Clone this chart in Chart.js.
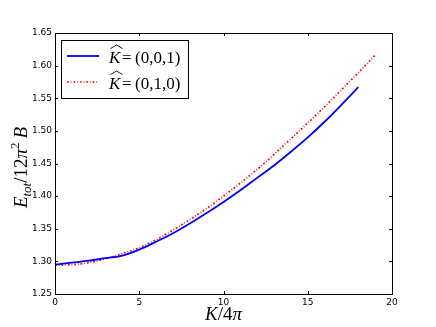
<!DOCTYPE html>
<html>
<head>
<meta charset="utf-8">
<script src="https://cdn.jsdelivr.net/npm/chart.js@4"></script>
<style>
html,body{margin:0;padding:0;background:#fff;}
canvas{display:block;}
</style>
</head>
<body>
<canvas id="c" width="436" height="327"></canvas>
<script>
// ---- data ----
const blueX = [0,1,2,3,4,5,6,7,8,9,10,11,12,13,14,15,16,17,18];
const blueY = [1.295,1.298,1.301,1.305,1.309,1.318,1.330,1.343,1.358,1.374,1.391,1.409,1.428,1.447,1.468,1.490,1.514,1.540,1.567];
const redX  = [0,1,2,3,4,5,6,7,8,9,10,11,12,13,14,15,16,17,18,19];
const redY  = [1.294,1.295,1.298,1.304,1.312,1.321,1.333,1.348,1.364,1.381,1.400,1.420,1.441,1.464,1.488,1.512,1.537,1.563,1.589,1.616];
const xTicks = [0,5,10,15,20];
const yTicks = [1.25,1.30,1.35,1.40,1.45,1.50,1.55,1.60,1.65];
const legendLabels = ['(0,0,1)', '(0,1,0)'];

const BLUE = '#0000ff', RED = '#ff0000';
const RED_DASH = [1.8,1.9,0.8,1.9];

const pts = (xs, ys) => xs.map((x, i) => ({x: x, y: ys[i]}));

const SERIF = '"Liberation Serif", "DejaVu Serif", serif';

function drawPieces(ctx, pieces, cx, cy) {
  let total = 0;
  pieces.forEach(p => {
    ctx.font = (p.italic ? 'italic ' : '') + p.size + 'px ' + SERIF;
    p.w = ctx.measureText(p.t).width + (p.gap || 0);
    total += p.w;
  });
  let x = cx - total / 2;
  ctx.textBaseline = 'alphabetic';
  ctx.textAlign = 'left';
  pieces.forEach(p => {
    ctx.font = (p.italic ? 'italic ' : '') + p.size + 'px ' + SERIF;
    ctx.fillText(p.t, x, cy + (p.dy || 0));
    x += p.w;
  });
}

const decor = {
  id: 'decor',
  afterDraw(chart) {
    const ctx = chart.ctx, a = chart.chartArea;
    const xs = chart.scales.x, ys = chart.scales.y;
    ctx.save();
    // frame
    ctx.strokeStyle = '#000';
    ctx.lineWidth = 1;
    ctx.strokeRect(Math.round(a.left) + 0.5, Math.round(a.top) + 0.5,
                   Math.round(a.right - a.left), Math.round(a.bottom - a.top));
    // inward ticks on all sides
    const L = 3;
    ctx.beginPath();
    xTicks.forEach(v => {
      const px = Math.round(xs.getPixelForValue(v)) + 0.5;
      ctx.moveTo(px, a.bottom); ctx.lineTo(px, a.bottom - L);
      ctx.moveTo(px, a.top); ctx.lineTo(px, a.top + L);
    });
    yTicks.forEach(v => {
      const py = Math.round(ys.getPixelForValue(v)) + 0.5;
      ctx.moveTo(a.left, py); ctx.lineTo(a.left + L, py);
      ctx.moveTo(a.right, py); ctx.lineTo(a.right - L, py);
    });
    ctx.stroke();

    // legend
    const bx = 61.5, by = 40.5, bw = 127, bh = 58;
    ctx.fillStyle = '#fff';
    ctx.fillRect(bx, by, bw, bh);
    ctx.strokeStyle = '#000';
    ctx.strokeRect(bx, by, bw, bh);
    const rows = [
      {y: 56, color: BLUE, dash: [], w: 1.8},
      {y: 82, color: RED, dash: RED_DASH, w: 1.6}
    ];
    rows.forEach((r, i) => {
      ctx.strokeStyle = r.color;
      ctx.lineWidth = r.w;
      ctx.setLineDash(r.dash);
      ctx.beginPath();
      ctx.moveTo(67, r.y); ctx.lineTo(99, r.y);
      ctx.stroke();
      ctx.setLineDash([]);
      ctx.fillStyle = '#000';
      ctx.textBaseline = 'alphabetic';
      ctx.textAlign = 'left';
      ctx.font = 'italic 17px ' + SERIF;
      const base = r.y + 7;
      ctx.fillText('K', 109, base);
      ctx.font = '17px ' + SERIF;
      ctx.fillText('=', 122, base);
      ctx.fillText(legendLabels[i], 135, base);
      // wide hat over K
      ctx.strokeStyle = '#000';
      ctx.lineWidth = 0.9;
      ctx.beginPath();
      ctx.moveTo(110.5, r.y - 7.5);
      ctx.lineTo(116.5, r.y - 11);
      ctx.lineTo(122.5, r.y - 7.5);
      ctx.stroke();
    });

    // x title
    ctx.fillStyle = '#000';
    drawPieces(ctx, [
      {t: 'K', size: 19, italic: true},
      {t: '/', size: 19},
      {t: '4', size: 19},
      {t: 'π', size: 19, italic: true}
    ], (a.left + a.right) / 2, 320);

    // y title (rotated)
    ctx.translate(27, 167.5);
    ctx.rotate(-Math.PI / 2);
    drawPieces(ctx, [
      {t: 'E', size: 19, italic: true},
      {t: 'tot', size: 13, italic: true, dy: 4},
      {t: '/', size: 19},
      {t: '12', size: 19},
      {t: 'π', size: 19, italic: true},
      {t: '2', size: 13, dy: -8, gap: 4},
      {t: 'B', size: 19, italic: true}
    ], 0, 0);
    ctx.restore();
  }
};

new Chart(document.getElementById('c'), {
  type: 'line',
  data: {
    datasets: [
      {label: 'K=(0,0,1)', data: pts(blueX, blueY), borderColor: BLUE, borderWidth: 1.8,
       pointRadius: 0, cubicInterpolationMode: 'monotone', fill: false},
      {label: 'K=(0,1,0)', data: pts(redX, redY), borderColor: RED, borderWidth: 1.7,
       borderDash: RED_DASH, pointRadius: 0, cubicInterpolationMode: 'monotone', fill: false}
    ]
  },
  options: {
    responsive: false,
    animation: false,
    devicePixelRatio: 1,
    layout: {padding: {left: 0, top: 33, right: 44, bottom: 0}},
    plugins: {legend: {display: false}, tooltip: {enabled: false}},
    scales: {
      x: {
        type: 'linear', min: 0, max: 20,
        afterBuildTicks: s => { s.ticks = xTicks.map(v => ({value: v})); },
        afterFit: s => { s.height = 33; },
        grid: {display: false, drawTicks: false}, border: {display: false},
        ticks: {color: '#000', padding: 3, maxRotation: 0,
                font: {family: '"DejaVu Sans"', size: 9},
                callback: v => String(v)}
      },
      y: {
        type: 'linear', min: 1.25, max: 1.65,
        afterBuildTicks: s => { s.ticks = yTicks.map(v => ({value: v})); },
        afterFit: s => { s.width = 55; },
        grid: {display: false, drawTicks: false}, border: {display: false},
        ticks: {color: '#000', padding: 3,
                font: {family: '"DejaVu Sans"', size: 9},
                callback: v => Number(v).toFixed(2)}
      }
    }
  },
  plugins: [decor]
});
</script>
</body>
</html>
